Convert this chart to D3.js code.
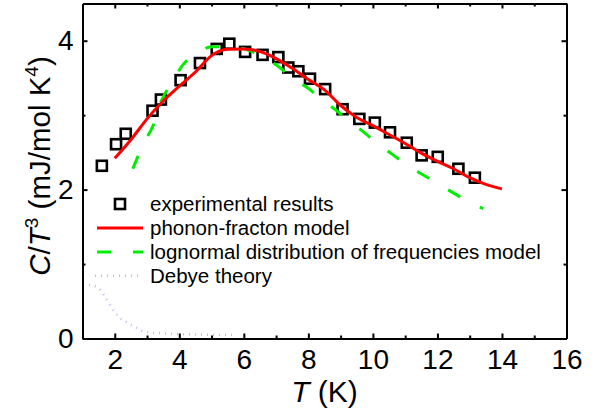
<!DOCTYPE html>
<html lang="en">
<head>
<meta charset="utf-8">
<title>C/T3 vs T</title>
<script src="https://d3js.org/d3.v7.min.js"></script>
<style>
  body { margin: 0; background: #fff; }
  svg { display: block; font-family: "Liberation Sans", Arial, sans-serif; }
  .axis path, .axis line { stroke: #000; }
  .axis text { fill: #000; font-size: 28px; font-family: "Liberation Sans", Arial, sans-serif; }
</style>
</head>
<body>
<svg width="592" height="414"></svg>
<script>
// experimental points
const expT = [1.6, 2.04, 2.34, 3.17, 3.43, 4.04, 4.64, 5.16, 5.55, 6.04, 6.58, 7.07, 7.38, 7.69, 8.05, 8.52,
              9.06, 9.58, 10.06, 10.53, 11.05, 11.51, 12.01, 12.65, 13.16];
const expC = [2.32, 2.61, 2.75, 3.06, 3.21, 3.47, 3.70, 3.89, 3.96, 3.85, 3.81, 3.78, 3.64, 3.59, 3.49, 3.35,
              3.08, 2.95, 2.90, 2.77, 2.63, 2.46, 2.44, 2.28, 2.16];

// phonon-fracton model
const pfT = [2.0, 2.5, 3.0, 3.5, 4.0, 4.5, 5.0, 5.5, 6.0, 6.5, 7.0, 7.5, 8.0, 8.5, 9.0, 9.5,
             10.0, 10.5, 11.0, 11.5, 12.0, 12.5, 13.0, 13.5, 14.0];
const pfC = [2.42, 2.67, 2.95, 3.19, 3.39, 3.58, 3.80, 3.885, 3.89, 3.855, 3.76, 3.63, 3.48, 3.34, 3.13, 2.97,
             2.86, 2.74, 2.62, 2.49, 2.38, 2.28, 2.16, 2.07, 2.01];

// lognormal distribution of frequencies model
const lnT = [2.56, 2.73, 2.97, 3.19, 3.38, 3.56, 3.87, 4.05, 4.3, 4.59, 5.0, 5.67, 6.09, 6.66, 7.02, 7.59,
             7.95, 8.44, 8.88, 9.29, 9.65, 10.22, 10.58, 11.15, 11.51, 12.08, 12.44, 13.0, 13.42];
const lnC = [2.28, 2.46, 2.68, 2.86, 3.13, 3.29, 3.50, 3.64, 3.76, 3.84, 3.92, 3.91, 3.88, 3.76, 3.67, 3.465,
             3.375, 3.20, 3.06, 2.91, 2.795, 2.59, 2.48, 2.30, 2.21, 2.06, 1.97, 1.83, 1.745];

// Debye theory
const debT = [1.2, 1.46, 1.67, 1.82, 2.03, 2.23, 2.44, 2.7, 2.91, 3.5, 4.0, 5.0, 5.7];
const debC = [0.72, 0.69, 0.58, 0.47, 0.34, 0.25, 0.20, 0.137, 0.09, 0.07, 0.06, 0.05, 0.045];

const xMajor = [2, 4, 6, 8, 10, 12, 14, 16];
const xMinor = [3, 5, 7, 9, 11, 13, 15];
const yMajor = [0, 2, 4];
const yMinor = [1, 3];

const legendLabels = ["experimental results", "phonon-fracton model",
                      "lognormal distribution of frequencies model", "Debye theory"];

const mLeft = 82.5, mRight = 566.5, mTop = 3.5, mBottom = 338.5;

const svg = d3.select("svg");

const x = d3.scaleLinear().domain([1, 16]).range([mLeft, mRight]);
const y = d3.scaleLinear().domain([0, 4.5]).range([mBottom, mTop]);

const zip = (a, b) => a.map((v, i) => [v, b[i]]);
const line = d3.line().x(d => x(d[0])).y(d => y(d[1])).curve(d3.curveMonotoneX);

// Debye curve
svg.append("path")
    .attr("d", line(zip(debT, debC)))
    .attr("fill", "none")
    .attr("stroke", "#bcbcee")
    .attr("stroke-width", 2.5)
    .attr("stroke-dasharray", "1,5");

// squares
svg.append("g")
    .selectAll("rect")
    .data(zip(expT, expC))
    .join("rect")
    .attr("x", d => x(d[0]) - 5)
    .attr("y", d => y(d[1]) - 5)
    .attr("width", 10)
    .attr("height", 10)
    .attr("fill", "none")
    .attr("stroke", "#000")
    .attr("stroke-width", 2.6);

// lognormal
svg.append("path")
    .attr("d", line(zip(lnT, lnC)))
    .attr("fill", "none")
    .attr("stroke", "#00ee00")
    .attr("stroke-width", 3)
    .attr("stroke-dasharray", "14,22");

// phonon-fracton
svg.append("path")
    .attr("d", line(zip(pfT, pfC)))
    .attr("fill", "none")
    .attr("stroke", "#ff0000")
    .attr("stroke-width", 3);

// axes
function styleAxis(g) {
    g.attr("class", "axis");
    g.select(".domain").attr("stroke-width", 2);
    g.selectAll(".tick line").attr("stroke-width", 2);
}

svg.append("g")
    .attr("transform", "translate(0," + mBottom + ")")
    .call(d3.axisBottom(x).tickValues(xMajor).tickSize(-5).tickSizeOuter(0).tickPadding(11))
    .call(styleAxis);
svg.append("g")
    .attr("transform", "translate(0," + mBottom + ")")
    .call(d3.axisBottom(x).tickValues(xMinor).tickSize(-3).tickSizeOuter(0).tickFormat(""))
    .call(styleAxis);
svg.append("g")
    .attr("transform", "translate(0," + mTop + ")")
    .call(d3.axisTop(x).tickValues(xMajor).tickSize(-5).tickSizeOuter(0).tickFormat(""))
    .call(styleAxis);
svg.append("g")
    .attr("transform", "translate(0," + mTop + ")")
    .call(d3.axisTop(x).tickValues(xMinor).tickSize(-3).tickSizeOuter(0).tickFormat(""))
    .call(styleAxis);

svg.append("g")
    .attr("transform", "translate(" + mLeft + ",0)")
    .call(d3.axisLeft(y).tickValues(yMajor).tickSize(-5).tickSizeOuter(0).tickPadding(9)
        .tickFormat(d3.format("d")))
    .call(styleAxis);
svg.append("g")
    .attr("transform", "translate(" + mLeft + ",0)")
    .call(d3.axisLeft(y).tickValues(yMinor).tickSize(-3).tickSizeOuter(0).tickFormat(""))
    .call(styleAxis);
svg.append("g")
    .attr("transform", "translate(" + mRight + ",0)")
    .call(d3.axisRight(y).tickValues(yMajor).tickSize(-5).tickSizeOuter(0).tickFormat(""))
    .call(styleAxis);
svg.append("g")
    .attr("transform", "translate(" + mRight + ",0)")
    .call(d3.axisRight(y).tickValues(yMinor).tickSize(-3).tickSizeOuter(0).tickFormat(""))
    .call(styleAxis);

// axis titles
const xt = svg.append("text")
    .attr("x", (mLeft + mRight) / 2)
    .attr("y", 402)
    .attr("text-anchor", "middle")
    .attr("font-size", 30);
xt.append("tspan").attr("font-style", "italic").text("T");
xt.append("tspan").text(" (K)");

const yt = svg.append("text")
    .attr("transform", "translate(50,166) rotate(-90)")
    .attr("text-anchor", "middle")
    .attr("font-size", 29.5);
yt.append("tspan").attr("font-style", "italic").text("C");
yt.append("tspan").text("/");
yt.append("tspan").attr("font-style", "italic").text("T");
yt.append("tspan").attr("font-size", 19).attr("dy", -12).text("3");
yt.append("tspan").attr("dy", 12).text(" (mJ/mol K");
yt.append("tspan").attr("font-size", 19).attr("dy", -12).text("4");
yt.append("tspan").attr("dy", 12).text(")");

// legend
const legY = [204, 228, 252, 275.7];
const lg = svg.append("g");
lg.append("rect")
    .attr("x", 120 - 5).attr("y", legY[0] - 5)
    .attr("width", 10).attr("height", 10)
    .attr("fill", "none").attr("stroke", "#000").attr("stroke-width", 2.6);
lg.append("line")
    .attr("x1", 97).attr("x2", 143).attr("y1", legY[1]).attr("y2", legY[1])
    .attr("stroke", "#ff0000").attr("stroke-width", 3);
lg.append("line")
    .attr("x1", 97).attr("x2", 143).attr("y1", legY[2]).attr("y2", legY[2])
    .attr("stroke", "#00ee00").attr("stroke-width", 3).attr("stroke-dasharray", "14,22");
lg.append("line")
    .attr("x1", 95).attr("x2", 142).attr("y1", legY[3]).attr("y2", legY[3])
    .attr("stroke", "#bcbcee").attr("stroke-width", 2.5).attr("stroke-dasharray", "1,5");
lg.selectAll("text")
    .data(legendLabels)
    .join("text")
    .attr("x", 150)
    .attr("y", (d, i) => legY[i] + 7)
    .attr("font-size", 20.5)
    .text(d => d);
</script>
</body>
</html>
